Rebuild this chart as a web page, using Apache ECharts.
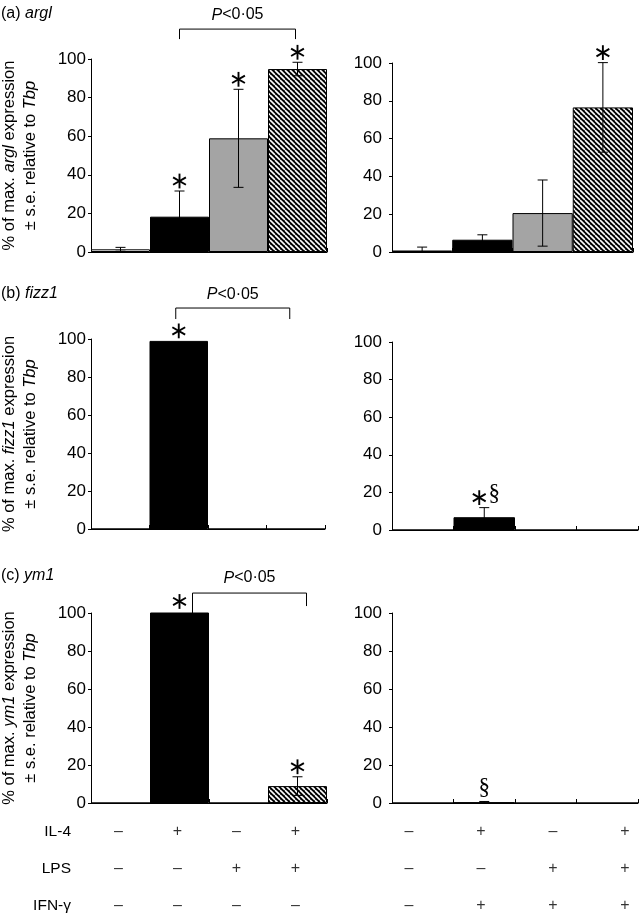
<!DOCTYPE html>
<html><head><meta charset="utf-8">
<script src="https://cdn.jsdelivr.net/npm/echarts@6/dist/echarts.min.js"></script>
<style>html,body{margin:0;padding:0;background:#fff}#c{width:640px;height:917px}</style>
</head><body><div id="c"></div>
<script>
// ---------------- DATA ----------------
const categories = ['none', 'IL-4', 'LPS', 'IL-4+LPS'];
const yTickMin = 0, yTickMax = 100, yTickStep = 20;

const arglLeft      = [1.4, 18.3, 58.9, 94.8];
const arglLeftErr   = [1.0, 13.3, 25.4, 3.5];
const arglRight     = [0.8, 6.5, 20.6, 76.5];
const arglRightErr  = [1.8, 2.6, 17.5, 23.7];
const fizzLeft      = [0, 99.0, 0, 0];
const fizzLeftErr   = [0, 0, 0, 0];
const fizzRight     = [0, 6.8, 0, 0];
const fizzRightErr  = [0, 5.1, 0, 0];
const ymLeft        = [0, 100.8, 0, 8.9];
const ymLeftErr     = [0, 0, 0, 4.9];
const ymRight       = [0, 0.3, 0, 0];
const ymRightErr    = [0, 0.5, 0, 0];

const arglLeftMarks  = ['', '*', '*', '*'];
const arglRightMarks = ['', '', '', '*'];
const fizzLeftMarks  = ['', '*', '', ''];
const fizzRightMarks = ['', '*§', '', ''];
const ymLeftMarks    = ['', '*', '', '*'];
const ymRightMarks   = ['', '§', '', ''];

const pText = '{i|P}<0·05';
const tableRows     = ['IL-4', 'LPS', 'IFN-γ'];
const il4Signs      = ['–', '+', '–', '+'];
const lpsSigns      = ['–', '–', '+', '+'];
const ifnLeftSigns  = ['–', '–', '–', '–'];
const ifnRightSigns = ['–', '+', '+', '+'];

// ---------------- STYLE / LAYOUT ----------------
const FONT = "'Liberation Sans', Arial, Helvetica, sans-serif";
const SERIF = "'Liberation Serif', 'Times New Roman', serif";

function makeHatch() {
  const s = 5, cv = document.createElement('canvas');
  cv.width = s; cv.height = s;
  const ctx = cv.getContext('2d');
  ctx.fillStyle = '#000'; ctx.fillRect(0, 0, s, s);
  ctx.strokeStyle = '#fff'; ctx.lineWidth = 1.6;
  for (const o of [-s, 0, s]) { ctx.beginPath(); ctx.moveTo(o, 0); ctx.lineTo(o + s, s); ctx.stroke(); }
  return { image: cv, repeat: 'repeat' };
}
const barFills = ['#ffffff', '#000000', '#a4a4a4', makeHatch()];

const panels = [
  { vals: arglLeft,  errs: arglLeftErr,  marks: arglLeftMarks,  grid: {left: 91,  top: 59,  width: 236, height: 193}, lm: 5,  name: '% of max. {i|argl} expression\n± s.e. relative to {i|Tbp}',
    bracket: {from: 1, to: 3, level: 115.5, dropL: 10, dropR: 10, dxL: 0, dxR: -2, tdy: -14} },
  { vals: arglRight, errs: arglRightErr, marks: arglRightMarks, grid: {left: 392, top: 63,  width: 241, height: 189}, lm: 10 },
  { vals: fizzLeft,  errs: fizzLeftErr,  marks: fizzLeftMarks,  grid: {left: 91,  top: 339, width: 234, height: 190}, lm: 5,  name: '% of max. {i|fizz1} expression\n± s.e. relative to {i|Tbp}',
    bracket: {from: 1, to: 3, level: 116.3, dropL: 11, dropR: 11, dxL: -3, dxR: -6, tdy: -13} },
  { vals: fizzRight, errs: fizzRightErr, marks: fizzRightMarks, grid: {left: 392, top: 342, width: 246, height: 188}, lm: 10 },
  { vals: ymLeft,    errs: ymLeftErr,    marks: ymLeftMarks,    grid: {left: 91,  top: 613, width: 236, height: 190}, lm: 5,  name: '% of max. {i|ym1} expression\n± s.e. relative to {i|Tbp}',
    bracket: {from: 1, to: 3, level: 110.5, dropL: 20, dropR: 13, dxL: 13, dxR: 9, tdy: -15} },
  { vals: ymRight,   errs: ymRightErr,   marks: ymRightMarks,   grid: {left: 392, top: 613, width: 246, height: 190}, lm: 10 }
];

const titles = [
  { text: '(a) {i|argl}',  top: 6 },
  { text: '(b) {i|fizz1}', top: 286 },
  { text: '(c) {i|ym1}',   top: 568 }
];

const grids = [], xAxes = [], yAxes = [], series = [];

function asterisk(cx, cy) {
  const r = 7.4;
  return [0, 60, 120].map(a => {
    const rad = a * Math.PI / 180, sx = r * Math.sin(rad), sy = r * Math.cos(rad);
    return { type: 'line', shape: {x1: cx + sx, y1: cy - sy, x2: cx - sx, y2: cy + sy},
             style: {stroke: '#000', lineWidth: 1.9} };
  });
}
function section(cx, cy, size) {
  return { type: 'text', style: { text: '§', x: cx, y: cy, align: 'center', verticalAlign: 'middle',
           fill: '#000', font: size + 'px ' + SERIF } };
}

panels.forEach((p, i) => {
  grids.push(Object.assign({ containLabel: false, outerBoundsMode: 'none' }, p.grid));
  xAxes.push({ type: 'category', gridIndex: i, data: categories, boundaryGap: true,
    axisLine: { show: true, lineStyle: { color: '#000', width: 1 } },
    axisTick: { show: true, inside: true, length: 4, interval: 0, lineStyle: { color: '#000' } },
    axisLabel: { show: false }, splitLine: { show: false } });
  const ya = { type: 'value', gridIndex: i, min: yTickMin, max: yTickMax, interval: yTickStep,
    axisLine: { show: true, lineStyle: { color: '#000', width: 1 } },
    axisTick: { show: true, inside: false, length: 3, lineStyle: { color: '#000' } },
    axisLabel: { color: '#000', fontSize: 17, fontFamily: FONT, margin: p.lm },
    splitLine: { show: false } };
  if (p.name) {
    Object.assign(ya, { name: p.name, nameLocation: 'middle', nameRotate: 90, nameGap: 50,
      nameTextStyle: { color: '#000', fontSize: 16.5, fontFamily: FONT, lineHeight: 21, align: 'center',
        rich: { i: { fontStyle: 'italic', fontSize: 16.5, fontFamily: FONT, lineHeight: 21, color: '#000' } } } });
  }
  yAxes.push(ya);

  series.push({ type: 'bar', xAxisIndex: i, yAxisIndex: i, barCategoryGap: '0%', animation: false,
    data: p.vals.map((v, k) => ({ value: v, itemStyle: { color: barFills[k], borderColor: '#000', borderWidth: 1 } })),
    z: 2 });

  const errData = p.vals.map((v, k) => [k, v, p.errs[k]]).filter(d => d[2] > 0);
  series.push({ type: 'custom', xAxisIndex: i, yAxisIndex: i, animation: false, z: 3, clip: false,
    data: errData,
    renderItem: (params, api) => {
      const c = api.value(0), v = api.value(1), e = api.value(2);
      const top = api.coord([c, v + e]), bot = api.coord([c, Math.max(0, v - e)]);
      const hw = 5;
      return { type: 'group', children: [
        { type: 'line', shape: {x1: top[0], y1: top[1], x2: bot[0], y2: bot[1]}, style: {stroke: '#000', lineWidth: 1} },
        { type: 'line', shape: {x1: top[0] - hw, y1: top[1], x2: top[0] + hw, y2: top[1]}, style: {stroke: '#000', lineWidth: 1} },
        { type: 'line', shape: {x1: bot[0] - hw, y1: bot[1], x2: bot[0] + hw, y2: bot[1]}, style: {stroke: '#000', lineWidth: 1} }
      ] };
    } });

  const markData = p.vals.map((v, k) => [k, v + p.errs[k]]);
  series.push({ type: 'custom', xAxisIndex: i, yAxisIndex: i, animation: false, z: 4, clip: false,
    data: markData,
    renderItem: (params, api) => {
      const m = p.marks[params.dataIndex];
      if (!m) return null;
      const pt = api.coord([api.value(0), api.value(1)]);
      let children = [];
      if (m === '*') children = asterisk(pt[0], pt[1] - 10);
      else if (m === '§') children = [section(pt[0], pt[1] - 14, 23)];
      else if (m === '*§') children = asterisk(pt[0] - 5, pt[1] - 10).concat([section(pt[0] + 10, pt[1] - 14, 23)]);
      return { type: 'group', children };
    } });

  if (p.bracket) {
    const b = p.bracket;
    series.push({ type: 'custom', xAxisIndex: i, yAxisIndex: i, animation: false, z: 4, clip: false,
      data: [[b.from, b.to, b.level]],
      renderItem: (params, api) => {
        const a = api.coord([api.value(0), api.value(2)]), c = api.coord([api.value(1), api.value(2)]);
        const x1 = a[0] + b.dxL, x2 = c[0] + b.dxR, y = a[1];
        return { type: 'group', children: [
          { type: 'polyline', shape: { points: [[x1, y + b.dropL], [x1, y], [x2, y], [x2, y + b.dropR]] },
            style: { stroke: '#000', lineWidth: 1, fill: null } },
          { type: 'text', style: { text: pText, x: (x1 + x2) / 2, y: y + b.tdy, align: 'center', verticalAlign: 'middle',
              fill: '#000', font: '16px ' + FONT,
              rich: { i: { fontStyle: 'italic', fontSize: 16, fontFamily: FONT, fill: '#000' } } } }
        ] };
      } });
  }
});

// ---------------- TABLE ----------------
const tableGrids = [
  { left: 89,  top: 813, width: 236, height: 111, signs: [il4Signs, lpsSigns, ifnLeftSigns], labels: true },
  { left: 373, top: 813, width: 288, height: 111, signs: [il4Signs, lpsSigns, ifnRightSigns], labels: false }
];
tableGrids.forEach(t => {
  const gi = grids.length;
  grids.push({ left: t.left, top: t.top, width: t.width, height: t.height, containLabel: false, outerBoundsMode: 'none' });
  xAxes.push({ type: 'category', gridIndex: gi, data: categories, show: false });
  yAxes.push({ type: 'category', gridIndex: gi, data: tableRows, inverse: true,
    axisLine: { show: false }, axisTick: { show: false }, splitLine: { show: false },
    axisLabel: { show: t.labels, color: '#000', fontSize: 15.5, fontFamily: FONT, margin: 18 } });
  const data = [];
  t.signs.forEach((row, r) => row.forEach((s, c) => data.push({ name: s, value: [c, r] })));
  series.push({ type: 'scatter', xAxisIndex: gi, yAxisIndex: gi, animation: false, symbolSize: 1,
    itemStyle: { color: 'rgba(0,0,0,0)' }, data,
    label: { show: true, position: 'inside', formatter: '{b}', color: '#000', fontSize: 16, fontFamily: FONT } });
});

const chart = echarts.init(document.getElementById('c'), null, { renderer: 'canvas' });
chart.setOption({
  backgroundColor: '#fff',
  animation: false,
  title: titles.map(t => ({ text: t.text, left: 1, top: t.top, padding: 0,
    textStyle: { color: '#000', fontSize: 16, fontWeight: 'normal', fontFamily: FONT,
      rich: { i: { fontStyle: 'italic', fontSize: 16, fontFamily: FONT, color: '#000' } } } })),
  grid: grids, xAxis: xAxes, yAxis: yAxes, series
});
</script></body></html>
